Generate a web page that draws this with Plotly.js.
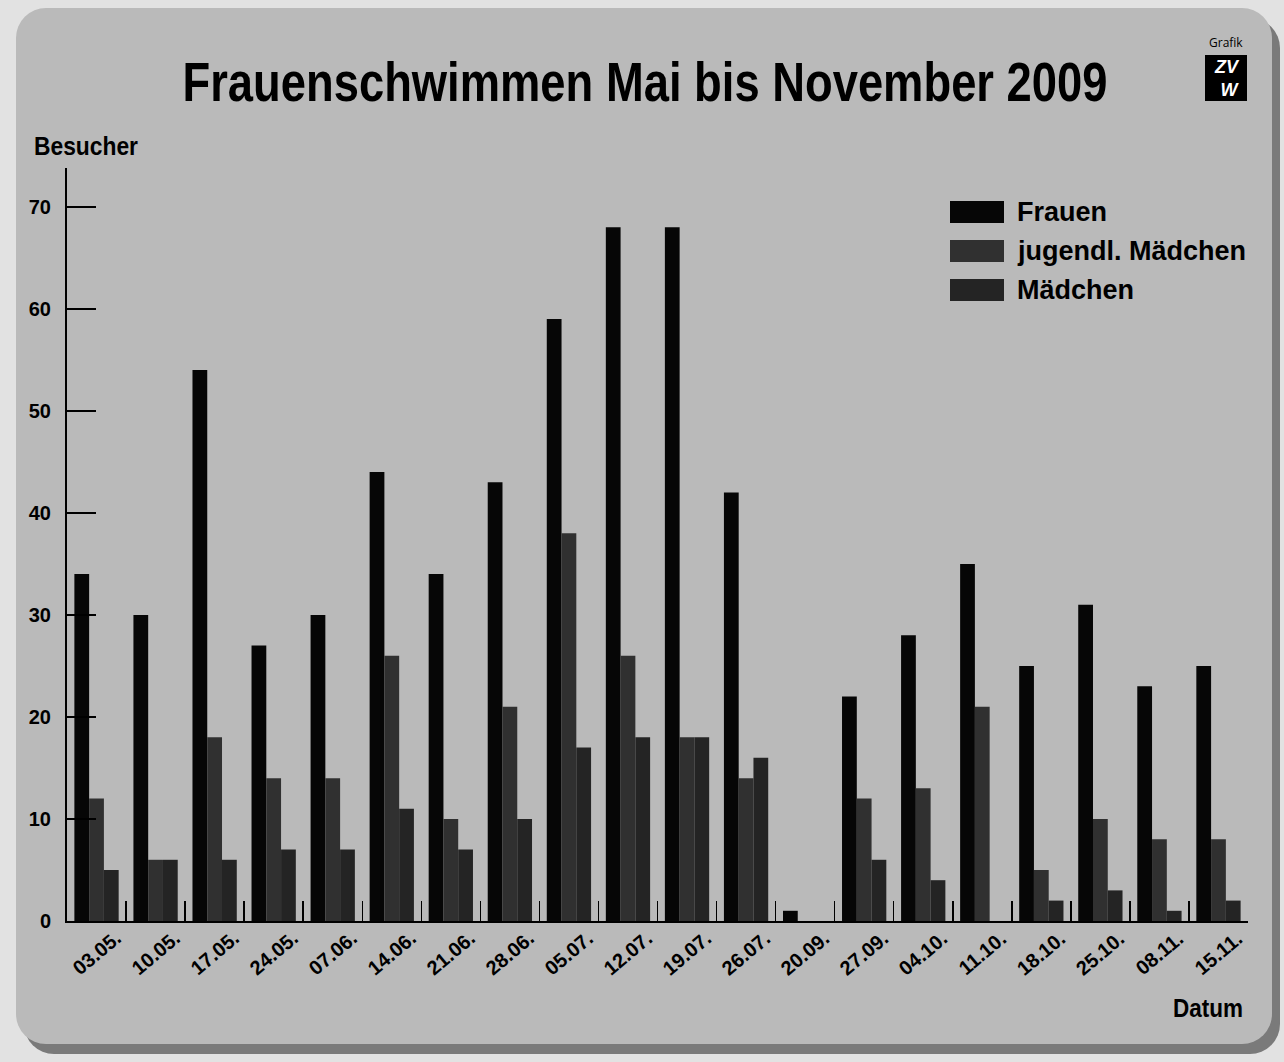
<!DOCTYPE html>
<html>
<head>
<meta charset="utf-8">
<script src="https://cdn.plot.ly/plotly-3.0.1.min.js"></script>
<style>
  html, body { margin:0; padding:0; }
  body { width:1284px; height:1062px; background:#e2e2e2; position:relative; overflow:hidden; }
  #panel { position:absolute; left:16px; top:8px; width:1256px; height:1036px; border-radius:30px;
           background:#bababa; box-shadow: 8px 10px 0 #7a7a7a; }
  #chart { position:absolute; left:0; top:0; width:1284px; height:1062px; }
</style>
</head>
<body>
<div id="panel"></div>
<div id="chart"></div>
<script>
// ---- data ----
const dates = ["03.05.","10.05.","17.05.","24.05.","07.06.","14.06.","21.06.","28.06.","05.07.","12.07.",
               "19.07.","26.07.","20.09.","27.09.","04.10.","11.10.","18.10.","25.10.","08.11.","15.11."];
const frauen = [34,30,54,27,30,44,34,43,59,68,68,42,1,22,28,35,25,31,23,25];
const jugendlMaedchen = [12,6,18,14,14,26,10,21,38,26,18,14,0,12,13,21,5,10,8,8];
const maedchen = [5,6,6,7,7,11,7,10,17,18,18,16,0,6,4,0,2,3,1,2];
const seriesNames = ["Frauen","jugendl. Mädchen","Mädchen"];
const yTicks = [0,10,20,30,40,50,60,70];

// ---- styling ----
const colors = ["#060606","#303030","#242424"];
const sans = "Liberation Sans, Arial, Helvetica, sans-serif";
const W = 1284, H = 1062;
const M = {l:67, r:36, t:168, b:141};
const pw = W - M.l - M.r, ph = H - M.t - M.b;
const px = x => (x - M.l) / pw;
const py = y => (H - M.b - y) / ph;

const seriesVals = [frauen, jugendlMaedchen, maedchen];
const traces = seriesVals.map((vals, i) => ({
  type: "bar", x: dates, y: vals, name: seriesNames[i],
  marker: {color: colors[i], line: {width: 0}}
}));

const annotations = [];
const shapes = [];

// x labels (rotated)
dates.forEach(d => annotations.push({
  x: d, xref: "x", y: py(953), yref: "paper", text: d, showarrow: false,
  textangle: -40, xanchor: "center", yanchor: "middle",
  font: {family: sans, size: 20, color: "#000", weight: 700}
}));

// custom legend
seriesNames.forEach((n, i) => {
  const cy = 212 + i * 39;
  shapes.push({type: "rect", xref: "paper", yref: "paper",
    x0: px(950), x1: px(1004), y0: py(cy + 11), y1: py(cy - 11),
    fillcolor: colors[i], line: {width: 0}});
  annotations.push({x: px(1015), y: py(cy), xref: "paper", yref: "paper", text: n, showarrow: false,
    xanchor: "left", yanchor: "middle",
    font: {family: sans, size: 27, color: "#000", weight: 700}});
});

// axis labels
annotations.push({x: px(27), y: py(146), xref: "paper", yref: "paper", text: "Besucher", showarrow: false,
  xanchor: "left", yanchor: "middle", font: {family: sans, size: 25, color: "#000", weight: 700}});
annotations.push({x: px(1249), y: py(1008), xref: "paper", yref: "paper", text: "Datum", showarrow: false,
  xanchor: "right", yanchor: "middle", font: {family: sans, size: 25, color: "#000", weight: 700}});

// logo
annotations.push({x: px(1226), y: py(43), xref: "paper", yref: "paper", text: "Grafik", showarrow: false,
  xanchor: "center", yanchor: "middle", borderpad: 0,
  font: {family: "Open Sans, Liberation Sans, sans-serif", size: 12, color: "#000"}});
shapes.push({type: "rect", xref: "paper", yref: "paper", x0: px(1205), x1: px(1247), y0: py(101), y1: py(55),
  fillcolor: "#000", line: {width: 0}});
annotations.push({x: px(1227), y: py(78), xref: "paper", yref: "paper", text: "<i>ZV</i><br><i> W</i>", showarrow: false,
  xanchor: "center", yanchor: "middle", align: "center", borderpad: 0,
  font: {family: sans, size: 18, color: "#fff", weight: 900}});

const layout = {
  width: W, height: H, margin: M,
  paper_bgcolor: "rgba(0,0,0,0)", plot_bgcolor: "rgba(0,0,0,0)",
  showlegend: false, barmode: "group", bargap: 0.25, bargroupgap: 0,
  title: {text: "Frauenschwimmen Mai bis November 2009", x: 645 / W, xanchor: "center",
          y: 1 - 81 / H, yanchor: "middle",
          font: {family: sans, size: 56, color: "#000", weight: 700}},
  xaxis: {type: "category", showticklabels: false, showline: true, linecolor: "#000", linewidth: 2,
          ticks: "inside", tickson: "boundaries", ticklen: 20, tickwidth: 1.5, tickcolor: "#000",
          showgrid: false, zeroline: false, range: [-0.5, dates.length - 0.5], fixedrange: true},
  yaxis: {range: [0, 73.8], tickvals: yTicks, ticktext: yTicks.map(String),
          showline: true, linecolor: "#000", linewidth: 2,
          ticks: "inside", ticklen: 29, tickwidth: 1.5, tickcolor: "#000",
          ticklabelstandoff: 10, showgrid: false, zeroline: false,
          tickfont: {family: sans, size: 20, color: "#000", weight: 700}, fixedrange: true},
  annotations, shapes
};

function condense(el, target) {
  if (!el) return;
  el.setAttribute("textLength", target);
  el.setAttribute("lengthAdjust", "spacingAndGlyphs");
}

Plotly.newPlot("chart", traces, layout, {displayModeBar: false, staticPlot: true}).then(gd => {
  // narrow (condensed) lettering like the newspaper graphic
  condense(gd.querySelector(".gtitle"), 925);
  gd.querySelectorAll(".annotation-text").forEach(t => {
    const s = t.textContent;
    if (s === "Besucher") condense(t, 104);
    if (s === "Datum") condense(t, 70);
  });
});
</script>
</body>
</html>
